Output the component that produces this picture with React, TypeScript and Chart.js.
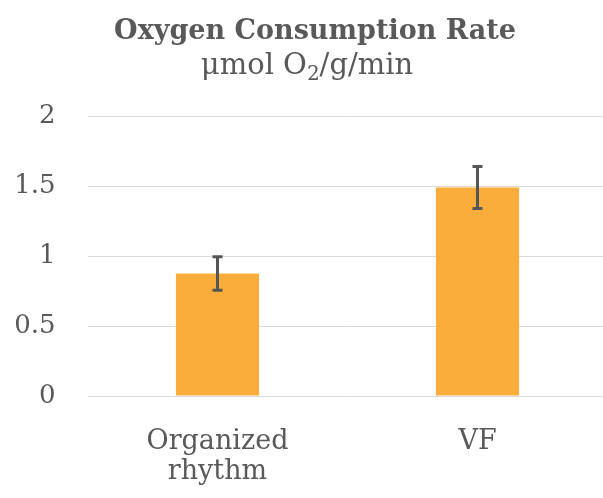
import React, { useEffect, useRef } from "react";
import { Chart, registerables } from "chart.js";

Chart.register(...registerables);

const categories: string[][] = [["Organized", "rhythm"], ["VF"]];
const values: number[] = [0.875, 1.49];
const errors: number[] = [0.12, 0.15];
const yTicks: number[] = [0, 0.5, 1, 1.5, 2];

const titleText = "Oxygen Consumption Rate";
const subtitleParts = ["μmol O", "2", "/g/min"];

const FONT = "'DejaVu Serif', 'Liberation Serif', serif";
const TEXT = "#595959";

const errorBarPlugin = {
  id: "errorBars",
  afterDatasetsDraw(chart: any) {
    const ctx = chart.ctx;
    const meta = chart.getDatasetMeta(0);
    const y = chart.scales.y;
    ctx.save();
    ctx.strokeStyle = "#555555";
    ctx.lineWidth = 3;
    ctx.lineCap = "butt";
    meta.data.forEach((bar: any, i: number) => {
      const x = bar.x;
      const top = y.getPixelForValue(values[i] + errors[i]);
      const bot = y.getPixelForValue(values[i] - errors[i]);
      ctx.beginPath();
      ctx.moveTo(x, top);
      ctx.lineTo(x, bot);
      ctx.moveTo(x - 5, top);
      ctx.lineTo(x + 5, top);
      ctx.moveTo(x - 5, bot);
      ctx.lineTo(x + 5, bot);
      ctx.stroke();
    });
    ctx.restore();
  },
};

const titlePlugin = {
  id: "titles",
  afterDraw(chart: any) {
    const ctx = chart.ctx;
    ctx.save();
    ctx.fillStyle = TEXT;
    ctx.textBaseline = "alphabetic";
    ctx.textAlign = "center";
    ctx.font = `bold 27px ${FONT}`;
    ctx.fillText(titleText, 315, 39);
    ctx.textAlign = "left";
    const big = `29px ${FONT}`;
    const small = `20px ${FONT}`;
    ctx.font = big;
    const w0 = ctx.measureText(subtitleParts[0]).width;
    const w2 = ctx.measureText(subtitleParts[2]).width;
    ctx.font = small;
    const w1 = ctx.measureText(subtitleParts[1]).width;
    const total = w0 + w1 + w2;
    let x = 307 - total / 2;
    const base = 74;
    ctx.font = big;
    ctx.fillText(subtitleParts[0], x, base);
    x += w0;
    ctx.font = small;
    ctx.fillText(subtitleParts[1], x, base + 6);
    x += w1;
    ctx.font = big;
    ctx.fillText(subtitleParts[2], x, base);
    ctx.restore();
  },
};

export default function App() {
  const ref = useRef<HTMLCanvasElement>(null);
  useEffect(() => {
    if (!ref.current) return;
    const chart = new Chart(ref.current, {
      type: "bar",
      data: {
        labels: categories,
        datasets: [
          {
            data: values,
            backgroundColor: "#FAAD3B",
            borderWidth: 0,
            categoryPercentage: 1,
            barPercentage: 0.32,
          },
        ],
      },
      options: {
        animation: false,
        responsive: false,
        devicePixelRatio: 1,
        layout: { padding: { top: 116, left: 0, right: 12.5, bottom: 0 } },
        plugins: { legend: { display: false }, tooltip: { enabled: false }, title: { display: false } },
        scales: {
          x: {
            grid: { display: false, drawTicks: false },
            border: { display: false },
            ticks: {
              color: TEXT,
              font: { family: FONT, size: 27, lineHeight: 1.12 },
              padding: 31,
              maxRotation: 0,
              autoSkip: false,
            },
            afterFit(scale: any) {
              scale.height = 102;
            },
          },
          y: {
            min: 0,
            max: 2,
            afterBuildTicks(scale: any) {
              scale.ticks = yTicks.map((v) => ({ value: v }));
            },
            grid: { color: "#D9D9D9", lineWidth: 1, drawTicks: false },
            border: { display: false },
            ticks: {
              color: TEXT,
              font: { family: FONT, size: 26 },
              padding: 32,
              callback: (v: any) => String(v),
            },
            afterFit(scale: any) {
              scale.width = 87.5;
            },
          },
        },
      },
      plugins: [errorBarPlugin, titlePlugin],
    });
    return () => chart.destroy();
  }, []);
  return (
    <div style={{ position: "fixed", left: 0, top: 0, width: 603, height: 498, overflow: "hidden", background: "#fff" }}>
      <canvas ref={ref} width={620} height={498} style={{ width: 620, height: 498, display: "block" }} />
    </div>
  );
}
